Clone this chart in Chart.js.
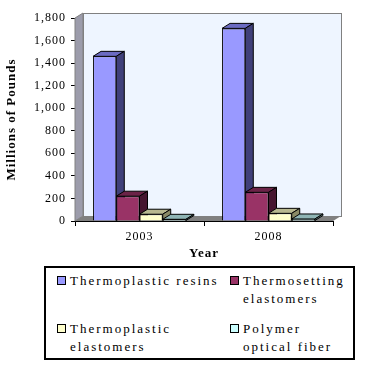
<!DOCTYPE html>
<html>
<head>
<meta charset="utf-8">
<script src="https://cdn.jsdelivr.net/npm/chart.js@4/dist/chart.umd.min.js"></script>
<style>
  body { margin: 0; background: #fff; }
  #wrap { position: relative; width: 367px; height: 372px; }
  #legend {
    position: absolute; left: 44px; top: 266px; width: 307px; height: 90px;
    border: 2px solid #000; background: #fff;
    font-family: "Liberation Serif", serif; font-size: 13px;
    letter-spacing: 2px; color: #000;
  }
  .item { position: absolute; line-height: 18px; }
  .box { position: absolute; left: 0; top: 4px; width: 7px; height: 7px; border: 1px solid #000; }
  .txt { position: absolute; left: 13px; top: 0; white-space: nowrap; }
</style>
</head>
<body>
<div id="wrap">
  <canvas id="chart" width="367" height="372"></canvas>
  <div id="legend"></div>
</div>
<script>
const years = ['2003', '2008'];
const seriesNames = [
  ['Thermoplastic resins'],
  ['Thermosetting', 'elastomers'],
  ['Thermoplastic', 'elastomers'],
  ['Polymer', 'optical fiber']
];
const thermoplasticResins = [1460, 1708];
const thermosettingElastomers = [220, 254];
const thermoplasticElastomers = [60, 68];
const polymerOpticalFiber = [15, 18];

// front, top, side colours for each series
const fronts = ['#9999ff', '#993366', '#ffffcc', '#ccffff'];
const tops = ['#6b6bc2', '#6b2347', '#b8b890', '#8fb5b5'];
const sides = ['#40407a', '#461630', '#8a8a66', '#6b8c8c'];

const serif = '"Liberation Serif", serif';
const DX = 8, DY = -5;

const spacing = {
  id: 'spacing',
  beforeDraw(chart) { chart.ctx.letterSpacing = '1px'; }
};

// back wall, side wall and floor behind the bars, then depth faces of the bars
const depth = {
  id: 'depth',
  beforeDatasetsDraw(chart) {
    const ctx = chart.ctx, a = chart.chartArea;
    ctx.save();
    ctx.fillStyle = '#eef5ff';
    ctx.fillRect(a.left + DX, a.top + DY, a.right - a.left, a.bottom - a.top);
    ctx.strokeStyle = '#808080';
    ctx.lineWidth = 1;
    ctx.strokeRect(a.left + DX + 0.5, a.top + DY + 0.5, a.right - a.left, a.bottom - a.top);
    // left wall
    ctx.beginPath();
    ctx.moveTo(a.left, a.top);
    ctx.lineTo(a.left + DX, a.top + DY);
    ctx.lineTo(a.left + DX, a.bottom + DY);
    ctx.lineTo(a.left, a.bottom);
    ctx.closePath();
    ctx.fillStyle = '#9c9cab';
    ctx.fill();
    ctx.strokeStyle = '#808080';
    ctx.stroke();
    // floor
    ctx.beginPath();
    ctx.moveTo(a.left, a.bottom);
    ctx.lineTo(a.left + DX, a.bottom + DY);
    ctx.lineTo(a.right + DX, a.bottom + DY);
    ctx.lineTo(a.right, a.bottom);
    ctx.closePath();
    ctx.fillStyle = '#808080';
    ctx.fill();
    // bar depth faces
    ctx.strokeStyle = '#000';
    chart.data.datasets.forEach((ds, i) => {
      chart.getDatasetMeta(i).data.forEach(bar => {
        const l = bar.x - bar.width / 2, r = bar.x + bar.width / 2, t = bar.y, b = bar.base;
        ctx.beginPath();
        ctx.moveTo(l, t);
        ctx.lineTo(l + DX, t + DY);
        ctx.lineTo(r + DX, t + DY);
        ctx.lineTo(r, t);
        ctx.closePath();
        ctx.fillStyle = tops[i];
        ctx.fill();
        ctx.stroke();
        ctx.beginPath();
        ctx.moveTo(r, t);
        ctx.lineTo(r + DX, t + DY);
        ctx.lineTo(r + DX, b + DY);
        ctx.lineTo(r, b);
        ctx.closePath();
        ctx.fillStyle = sides[i];
        ctx.fill();
        ctx.stroke();
      });
    });
    ctx.restore();
  }
};

const values = [thermoplasticResins, thermosettingElastomers, thermoplasticElastomers, polymerOpticalFiber];

const chart = new Chart(document.getElementById('chart'), {
  type: 'bar',
  data: {
    labels: years,
    datasets: values.map((v, i) => ({
      label: seriesNames[i].join(' '),
      data: v,
      backgroundColor: fronts[i],
      borderColor: '#000',
      borderWidth: 1,
      categoryPercentage: 0.72,
      barPercentage: 1
    }))
  },
  options: {
    responsive: false,
    animation: false,
    layout: { padding: { left: 0, right: 34, top: 18, bottom: 110 } },
    plugins: { legend: { display: false }, tooltip: { enabled: false } },
    scales: {
      x: {
        grid: { drawOnChartArea: false, tickLength: 5, color: '#000' },
        border: { color: '#000' },
        ticks: { color: '#000', padding: 4, font: { family: serif, size: 12 } },
        title: { display: true, text: 'Year', color: '#000', padding: { top: 2, bottom: 1 },
                 font: { family: serif, size: 13, weight: 'bold' } },
        afterFit(s) { s.height = 41; }
      },
      y: {
        min: 0, max: 1800,
        ticks: { stepSize: 200, color: '#000', padding: 5, font: { family: serif, size: 12 } },
        grid: { drawOnChartArea: false, tickLength: 4, color: '#000' },
        border: { color: '#000' },
        title: { display: true, text: 'Millions of Pounds', color: '#000',
                 font: { family: serif, size: 13, weight: 'bold' } },
        afterFit(s) { s.width = 75; }
      }
    }
  },
  plugins: [spacing, depth]
});

// legend built from the datasets
const legend = document.getElementById('legend');
const spots = [[11, 4], [184, 4], [11, 52], [184, 52]];
chart.data.datasets.forEach((ds, i) => {
  const item = document.createElement('div');
  item.className = 'item';
  item.style.left = spots[i][0] + 'px';
  item.style.top = spots[i][1] + 'px';
  const box = document.createElement('div');
  box.className = 'box';
  box.style.background = ds.backgroundColor;
  const txt = document.createElement('div');
  txt.className = 'txt';
  txt.innerHTML = seriesNames[i].join('<br>');
  item.appendChild(box);
  item.appendChild(txt);
  legend.appendChild(item);
});
</script>
</body>
</html>
